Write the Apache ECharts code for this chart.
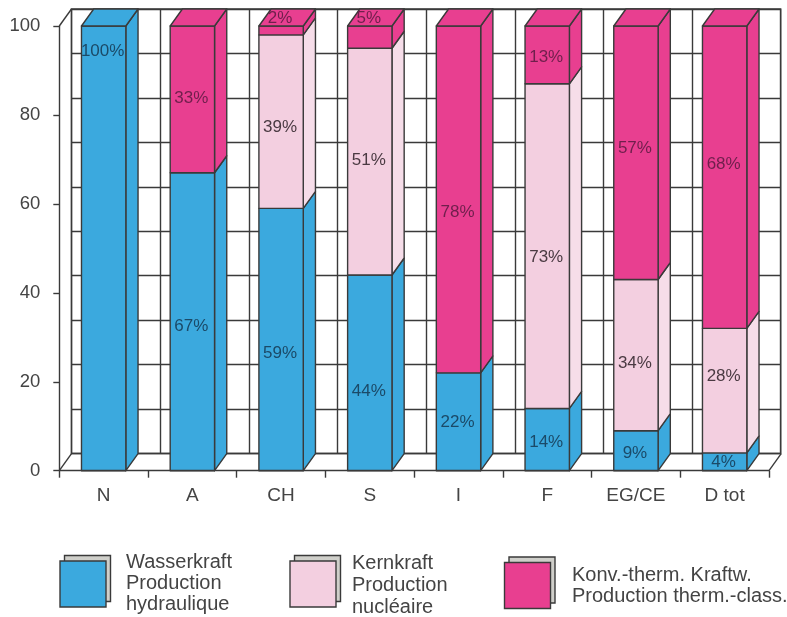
<!DOCTYPE html>
<html>
<head>
<meta charset="utf-8">
<style>html,body{margin:0;padding:0;background:#fff}#c{width:787px;height:617px}</style>
<script src="https://cdn.jsdelivr.net/npm/echarts@6/dist/echarts.min.js"></script>
</head>
<body>
<div id="c"></div>
<script>
const categories = ['N', 'A', 'CH', 'S', 'I', 'F', 'EG/CE', 'D tot'];
const hydro   = [100, 67, 59, 44, 22, 14, 9, 4];
const nuclear = [0, 0, 39, 51, 0, 73, 34, 28];
const thermal = [0, 33, 2, 5, 78, 13, 57, 68];
const legendHydro   = ['Wasserkraft', 'Production', 'hydraulique'];
const legendNuclear = ['Kernkraft', 'Production', 'nucléaire'];
const legendThermal = ['Konv.-therm. Kraftw.', 'Production therm.-class.'];

// pixel nudges of the printed percentage labels, relative to the segment middle
const hydroNudge   = [-198, 4, 13, 17, 0, 2, 2, 0];
const nuclearNudge = [0, 0, 5, -2, 0, 10, 7, -15];
const thermalNudge = [0, -2, -13, -20, 12, 1, -5, -14];

const BLUE = '#3ba9de', PINK = '#f3cfe0', MAGENTA = '#e83f90';
const SIDE_PINK = '#f6dde9';
const LINE = '#3a3a3a', TEXT = '#444444';
const LW = 1.4;
const DX = 12.2, DY = -17, BAR = 0.5;
const FONT = '"Liberation Sans", Arial, sans-serif';

const layers = [
  { name: 'Wasserkraft', values: hydro, color: BLUE, side: BLUE, nudge: hydroNudge, text: '#1b4a68' },
  { name: 'Kernkraft', values: nuclear, color: PINK, side: SIDE_PINK, nudge: nuclearNudge, text: '#4a3a42' },
  { name: 'Konv.-therm.', values: thermal, color: MAGENTA, side: MAGENTA, nudge: thermalNudge, text: '#6f1f4c' }
];

function rows(layerIndex) {
  return categories.map((c, i) => {
    let base = 0;
    for (let k = 0; k < layerIndex; k++) base += layers[k].values[i];
    const v = layers[layerIndex].values[i];
    let above = 0;
    for (let k = layerIndex + 1; k < layers.length; k++) above += layers[k].values[i];
    return [i, base, base + v, v, above === 0 ? 1 : 0];
  });
}

function poly(points, fill) {
  return { type: 'polygon', shape: { points }, style: { fill, stroke: LINE, lineWidth: LW, lineJoin: 'round' } };
}

function segmentRenderer(layer) {
  return function (params, api) {
    const v = api.value(3);
    if (!v) return { type: 'group', children: [] };
    const i = api.value(0);
    const band = api.size([1, 0])[0];
    const half = band * BAR / 2;
    const c = api.coord([i, 0])[0];
    const yb = api.coord([i, api.value(1)])[1];
    const yt = api.coord([i, api.value(2)])[1];
    const l = c - half, r = c + half;
    const children = [
      poly([[r, yb], [r + DX, yb + DY], [r + DX, yt + DY], [r, yt]], layer.side),
      poly([[l, yb], [r, yb], [r, yt], [l, yt]], layer.color)
    ];
    if (api.value(4)) {
      children.push(poly([[l, yt], [l + DX, yt + DY], [r + DX, yt + DY], [r, yt]], layer.color));
    }
    children.push({
      type: 'text', z2: 10,
      style: {
        x: c - 1, y: (yb + yt) / 2 + layer.nudge[i] + 1, text: v + '%',
        fill: layer.text, font: '17px ' + FONT, align: 'center', verticalAlign: 'middle'
      }
    });
    return { type: 'group', children };
  };
}

function frameRenderer(params, api) {
  const band = api.size([1, 0])[0];
  const x0 = api.coord([0, 0])[0] - band / 2;
  const x1 = api.coord([categories.length - 1, 0])[0] + band / 2;
  const y0 = api.coord([0, 0])[1];
  const y1 = api.coord([0, 100])[1];
  const seg = (x, y) => ({
    type: 'line', shape: { x1: x, y1: y, x2: x + DX, y2: y + DY },
    style: { stroke: LINE, lineWidth: LW }
  });
  return { type: 'group', children: [seg(x0, y0), seg(x0, y1), seg(x1, y0)] };
}

function legendGraphics(x, y, color, textX, lines, lineTop, step) {
  const out = [
    { type: 'rect', shape: { x: x + 4.5, y: y - 5.5, width: 46, height: 46 }, style: { fill: '#cfcfca', stroke: LINE, lineWidth: LW } },
    { type: 'rect', shape: { x, y, width: 46, height: 46 }, style: { fill: color, stroke: LINE, lineWidth: LW } }
  ];
  lines.forEach((t, i) => out.push({
    type: 'text', x: textX, y: lineTop + i * step,
    style: { text: t, fill: TEXT, font: '20px ' + FONT, verticalAlign: 'middle', align: 'left' }
  }));
  return out;
}

const chart = echarts.init(document.getElementById('c'), null, { renderer: 'canvas' });
chart.setOption({
  animation: false,
  backgroundColor: '#ffffff',
  grid: [
    { left: 59.3, right: 18, top: 26, bottom: 146.3 },
    { left: 71.5, right: 6.3, top: 9, bottom: 163.5, show: true, borderColor: LINE, borderWidth: LW, backgroundColor: 'transparent' }
  ],
  xAxis: [
    {
      type: 'category', gridIndex: 0, data: categories, z: 5,
      axisLine: { show: true, lineStyle: { color: LINE, width: LW } },
      axisTick: { show: true, length: 7, interval: 0, alignWithLabel: false, lineStyle: { color: LINE, width: LW } },
      axisLabel: { color: TEXT, fontSize: 19, fontFamily: FONT, margin: 16, interval: 0 },
      splitLine: { show: false }
    },
    {
      type: 'category', gridIndex: 1, data: categories,
      axisLine: { show: false }, axisTick: { show: false }, axisLabel: { show: false },
      splitLine: { show: true, interval: 0, lineStyle: { color: LINE, width: LW } }
    }
  ],
  yAxis: [
    {
      type: 'value', gridIndex: 0, min: 0, max: 100, interval: 20,
      axisLine: { show: true, lineStyle: { color: LINE, width: LW } },
      axisTick: { show: true, length: 6, lineStyle: { color: LINE, width: LW } },
      axisLabel: { color: TEXT, fontSize: 18.5, fontFamily: FONT, margin: 19 },
      splitLine: { show: false }
    },
    {
      type: 'value', gridIndex: 1, min: 0, max: 100, interval: 10,
      axisLine: { show: false }, axisTick: { show: false }, axisLabel: { show: false },
      splitLine: { show: true, lineStyle: { color: LINE, width: LW } }
    }
  ],
  series: [
    {
      type: 'custom', name: 'frame', xAxisIndex: 0, yAxisIndex: 0, z: 1, silent: true,
      data: [[0, 0]], renderItem: frameRenderer, clip: false
    }
  ].concat(layers.map((layer, k) => ({
    type: 'custom', name: layer.name, xAxisIndex: 0, yAxisIndex: 0, z: 3 + k, clip: false,
    data: rows(k), renderItem: segmentRenderer(layer),
    encode: { x: 0, y: 2 }
  }))),
  graphic: {
    elements: [].concat(
      legendGraphics(60, 561, BLUE, 126, legendHydro, 562, 21),
      legendGraphics(290, 561, PINK, 352, legendNuclear, 563, 22),
      legendGraphics(504.5, 562.5, MAGENTA, 572, legendThermal, 575, 21)
    )
  }
});
</script>
</body>
</html>
